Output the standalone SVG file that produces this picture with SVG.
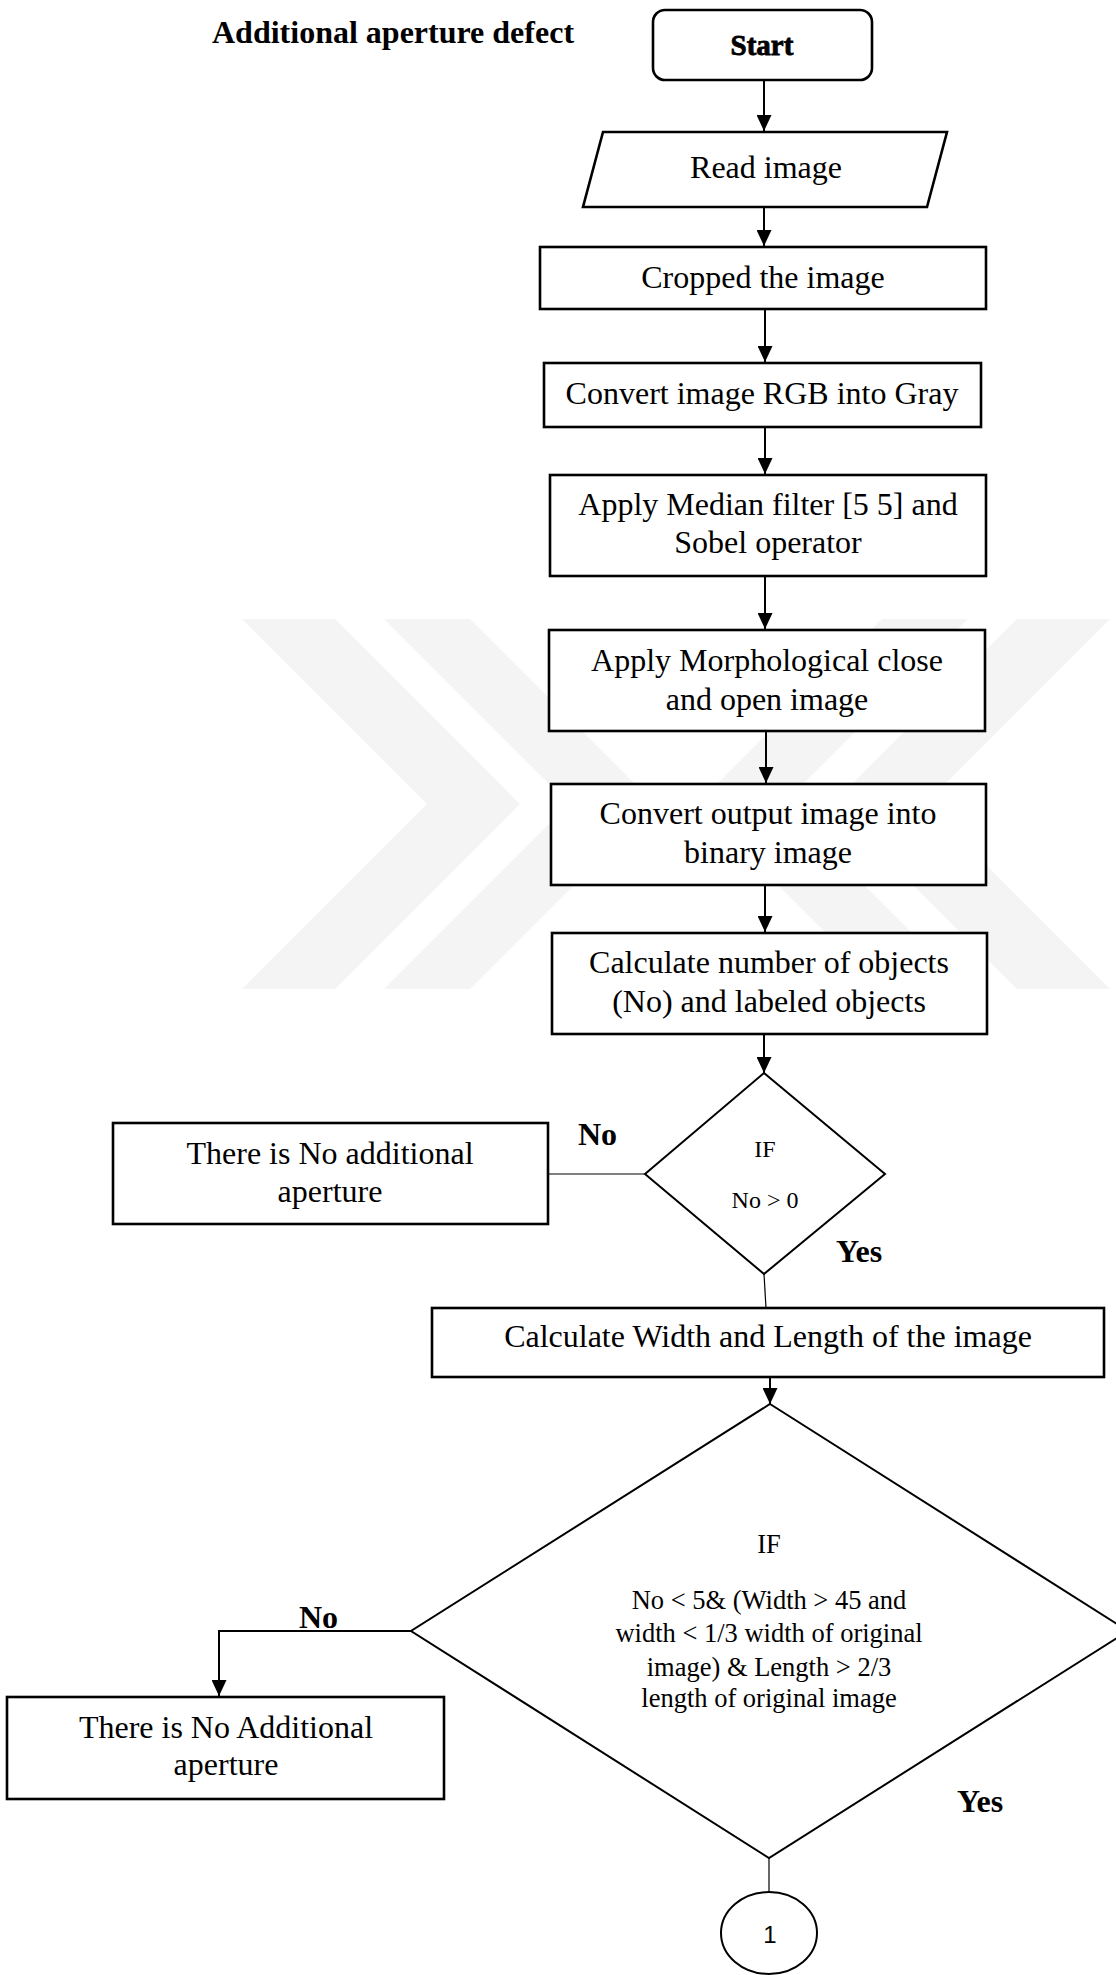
<svg xmlns="http://www.w3.org/2000/svg" width="1116" height="1975" viewBox="0 0 1116 1975">
  <defs>
    <marker id="arrow" markerUnits="userSpaceOnUse" markerWidth="16" markerHeight="15" refX="16" refY="7.5" orient="auto">
      <path d="M0,0 L16,7.5 L0,15 z" fill="#000"/>
    </marker>
    <style>
      .box { fill: #fff; stroke: #000; stroke-width: 2.6; }
      .dia { fill: #fff; stroke: #000; stroke-width: 2; }
      .t { font-family: "Liberation Serif", "Times New Roman", serif; font-size: 32px; fill: #000; text-anchor: middle; }
      .ts { font-family: "Liberation Serif", "Times New Roman", serif; font-size: 24px; fill: #000; text-anchor: middle; }
      .tm { font-family: "Liberation Serif", "Times New Roman", serif; font-size: 26.5px; fill: #000; text-anchor: middle; }
      .lbl { font-family: "Liberation Serif", "Times New Roman", serif; font-size: 32px; font-weight: bold; fill: #000; }
      .arr { fill: none; stroke: #000; stroke-width: 2; marker-end: url(#arrow); }
      .thin { fill: none; stroke: #000; stroke-width: 1.2; }
      .wm { fill: #f4f4f4; }
    </style>
  </defs>

  <rect width="1116" height="1975" fill="#fff"/>

  <!-- faint background watermark chevrons -->
  <g id="watermark">
    <polygon class="wm" points="242,619 335,619 520,804 335,989 242,989 427,804"/>
    <polygon class="wm" points="384,619 470,619 655,804 470,989 384,989 569,804"/>
    <polygon class="wm" points="968,619 882,619 697,804 882,989 968,989 783,804"/>
    <polygon class="wm" points="1110,619 1017,619 832,804 1017,989 1110,989 925,804"/>
  </g>

  <text id="title" x="212" y="43" font-family="Liberation Serif, Times New Roman, serif" font-size="32" font-weight="bold">Additional aperture defect</text>

  <!-- connectors -->
  <g id="connectors">
    <line class="arr" x1="764" y1="80" x2="764" y2="131"/>
    <line class="arr" x1="764" y1="207" x2="764" y2="246"/>
    <line class="arr" x1="765" y1="309" x2="765" y2="362"/>
    <line class="arr" x1="765" y1="427" x2="765" y2="474"/>
    <line class="arr" x1="765" y1="576" x2="765" y2="629"/>
    <line class="arr" x1="766" y1="731" x2="766" y2="783"/>
    <line class="arr" x1="765" y1="885" x2="765" y2="932"/>
    <line class="arr" x1="764" y1="1034" x2="764" y2="1073"/>
    <line class="thin" x1="548" y1="1174" x2="645" y2="1174"/>
    <line class="thin" x1="764" y1="1274" x2="766" y2="1308"/>
    <line class="arr" x1="770" y1="1377" x2="770" y2="1404"/>
    <polyline class="arr" points="411,1631 219,1631 219,1696"/>
    <line class="thin" x1="769" y1="1858" x2="769" y2="1892"/>
    <text class="lbl" x="578" y="1145">No</text>
    <text class="lbl" x="836" y="1262">Yes</text>
    <text class="lbl" x="299" y="1628">No</text>
    <text class="lbl" x="957" y="1812">Yes</text>
  </g>

  <g id="start">
    <rect class="box" x="653" y="10" width="219" height="70" rx="12"/>
    <text x="762" y="55" text-anchor="middle" font-family="Liberation Serif, Times New Roman, serif" font-size="29" font-weight="bold" stroke="#000" stroke-width="0.8">Start</text>
  </g>

  <g id="read-image">
    <polygon class="box" points="603,132 947,132 927,207 583,207"/>
    <text class="t" x="766" y="178" font-size="27">Read image</text>
  </g>

  <g id="crop">
    <rect class="box" x="540" y="247" width="446" height="62"/>
    <text class="t" x="763" y="288">Cropped the image</text>
  </g>

  <g id="gray">
    <rect class="box" x="544" y="363" width="437" height="64"/>
    <text class="t" x="762" y="404">Convert image RGB into Gray</text>
  </g>

  <g id="median">
    <rect class="box" x="550" y="475" width="436" height="101"/>
    <text class="t" x="768" y="515">Apply Median filter [5 5] and</text>
    <text class="t" x="768" y="553">Sobel operator</text>
  </g>

  <g id="morph">
    <rect class="box" x="549" y="630" width="436" height="101"/>
    <text class="t" x="767" y="671">Apply Morphological close</text>
    <text class="t" x="767" y="710">and open image</text>
  </g>

  <g id="binary">
    <rect class="box" x="551" y="784" width="435" height="101"/>
    <text class="t" x="768" y="824">Convert output image into</text>
    <text class="t" x="768" y="863">binary image</text>
  </g>

  <g id="count">
    <rect class="box" x="552" y="933" width="435" height="101"/>
    <text class="t" x="769" y="973">Calculate number of objects</text>
    <text class="t" x="769" y="1012">(No) and labeled objects</text>
  </g>

  <g id="if-count">
    <polygon class="dia" points="764,1073 885,1174 764,1274 645,1174"/>
    <text class="ts" x="765" y="1157">IF</text>
    <text class="ts" x="765" y="1208">No &gt; 0</text>
  </g>

  <g id="no-aperture-1">
    <rect class="box" x="113" y="1123" width="435" height="101"/>
    <text class="t" x="330" y="1164">There is No additional</text>
    <text class="t" x="330" y="1202">aperture</text>
  </g>

  <g id="size">
    <rect class="box" x="432" y="1308" width="672" height="69"/>
    <text class="t" x="768" y="1347">Calculate Width and Length of the image</text>
  </g>

  <g id="if-size">
    <polygon class="dia" points="770,1404 1128,1631 769,1858 411,1631"/>
    <text class="tm" x="769" y="1553">IF</text>
    <text class="tm" x="769" y="1609">No &lt; 5&amp; (Width &gt; 45 and</text>
    <text class="tm" x="769" y="1642">width &lt; 1/3 width of original</text>
    <text class="tm" x="769" y="1676">image) &amp; Length &gt; 2/3</text>
    <text class="tm" x="769" y="1707">length of original image</text>
  </g>

  <g id="no-aperture-2">
    <rect class="box" x="7" y="1697" width="437" height="102"/>
    <text class="t" x="226" y="1738">There is No Additional</text>
    <text class="t" x="226" y="1775">aperture</text>
  </g>

  <g id="connector-1">
    <ellipse cx="769" cy="1933" rx="48" ry="41" fill="#fff" stroke="#000" stroke-width="2"/>
    <text x="770" y="1943" text-anchor="middle" font-family="Liberation Sans, Arial, sans-serif" font-size="24">1</text>
  </g>
</svg>
